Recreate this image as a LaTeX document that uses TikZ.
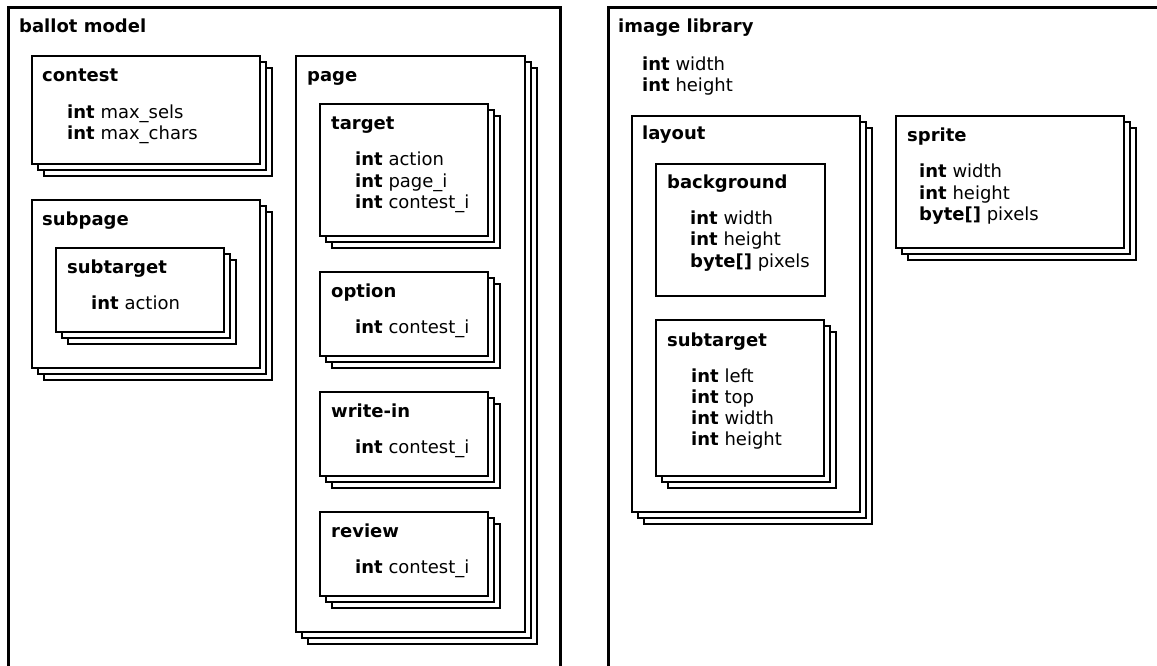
\documentclass[tikz,border=0pt]{standalone}
\usepackage{fontspec}
\setmainfont{DejaVu Sans}
\usetikzlibrary{positioning}

\begin{document}
\begin{tikzpicture}[x=1pt,y=-1pt,
		frame/.style={line width=3pt},
		card/.style={draw=black,fill=white,line width=1.2pt},
		heading/.style={anchor=base west,inner sep=0pt,font=\fontsize{18}{21}\selectfont\bfseries},
		member/.style={anchor=base west,inner sep=0pt,font=\fontsize{18}{21}\selectfont}]
		\clip (0,0) rectangle (1157,666);
		
		% the two open frames
		\draw[frame] (8,700) -- (8,8) -- (560,8) -- (560,700);
		\draw[frame] (608,700) -- (608,8) -- (1200,8);
		
		% stacked cards (outer ones first), three copies each
		\foreach \xa/\ya/\xb/\yb in {32/56/260/164,32/200/260/368,56/248/224/332,
			296/56/525/632,320/104/488/236,320/272/488/356,320/392/488/476,320/512/488/596,
			632/116/860/512,656/320/824/476,896/116/1124/248} {
			\foreach \d in {12,6,0} {
				\draw[card,shift={(\d,\d)}] (\xa,\ya) rectangle (\xb,\yb);
			}
		}
		
		% single card inside layout
		\draw[card] (656,164) rectangle (825,296);
		
		% headings
		\foreach \name/\x/\y/\txt in {ballot/19/33/ballot model,contest/42/82/contest,
			subpage/42/225/subpage,subtarget/67/273/subtarget,page/307/82/page,
			target/331/130/target,option/331/297/option,writein/331/417/write-in,
			review/331/537/review,imagelib/618/33/image library,layout/642/140/layout,
			background/667/189/background,subtargetb/667/346/subtarget,sprite/907/142/sprite} {
			\node[heading] (\name) at (\x,\y) {\txt};
		}
		
		% members: type in bold, then the name
		\foreach \name/\x/\y/\typ/\txt in {contest-1/67/119/int/max\_sels,contest-2/67/140/int/max\_chars,
			subtarget-1/91/309/int/action,
			target-1/355/166/int/action,target-2/355/187/int/page\_i,target-3/355/208/int/contest\_i,
			option-1/355/333/int/contest\_i,writein-1/355/453/int/contest\_i,review-1/355/573/int/contest\_i,
			imagelib-1/642/71/int/width,imagelib-2/642/92/int/height,
			background-1/690/224/int/width,background-2/690/245/int/height,background-3/690/267/byte[]/pixels,
			subtargetb-1/691/382/int/left,subtargetb-2/691/403/int/top,subtargetb-3/691/424/int/width,subtargetb-4/691/445/int/height,
			sprite-1/919/178/int/width,sprite-2/919/199/int/height,sprite-3/919/220/byte[]/pixels} {
			\node[member] (\name) at (\x,\y) {\textbf{\typ} \txt};
		}
	\end{tikzpicture}
\end{document}
